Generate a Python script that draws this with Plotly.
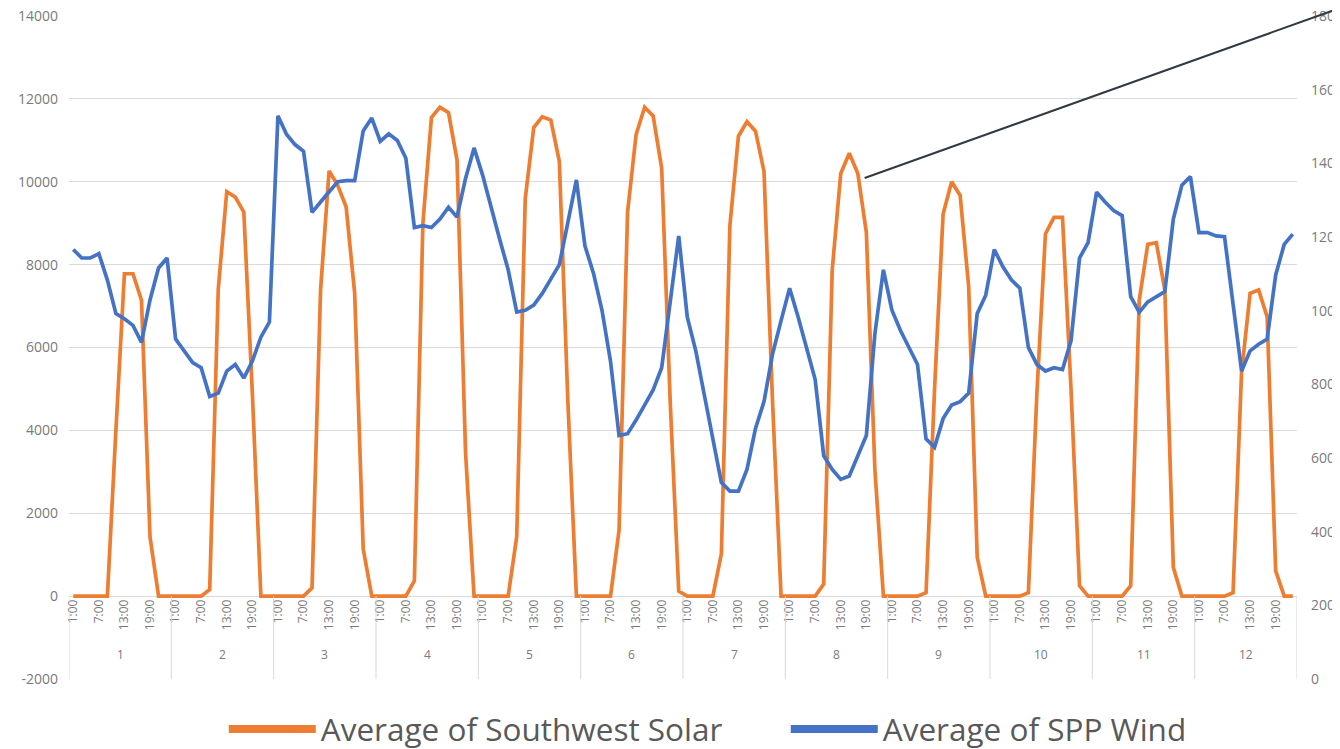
import plotly.graph_objects as go

# ---------------- data ----------------
months = list(range(1, 13))
hours = ["1:00", "3:00", "5:00", "7:00", "9:00", "11:00",
         "13:00", "15:00", "17:00", "19:00", "21:00", "23:00"]
tick_hours = ["1:00", "7:00", "13:00", "19:00"]

solar_by_month = [
    [0, 0, 0, 0, 0, 4000, 7780, 7780, 7140, 1430, 0, 0],
    [0, 0, 0, 0, 160, 7400, 9760, 9630, 9270, 4900, 0, 0],
    [0, 0, 0, 0, 200, 7390, 10260, 9920, 9390, 7310, 1140, 0],
    [0, 0, 0, 0, 370, 9000, 11550, 11800, 11670, 10530, 3470, 0],
    [0, 0, 0, 0, 1430, 9590, 11310, 11570, 11490, 10490, 4690, 0],
    [0, 0, 0, 0, 1590, 9270, 11140, 11800, 11590, 10330, 4690, 120],
    [0, 0, 0, 0, 1020, 8940, 11100, 11450, 11220, 10250, 4690, 0],
    [0, 0, 0, 0, 290, 7880, 10200, 10690, 10200, 8780, 3060, 0],
    [0, 0, 0, 0, 80, 5000, 9220, 10000, 9670, 7470, 940, 0],
    [0, 0, 0, 0, 80, 4900, 8740, 9140, 9140, 5000, 250, 0],
    [0, 0, 0, 0, 250, 7140, 8490, 8530, 7390, 690, 0, 0],
    [0, 0, 0, 0, 80, 5400, 7310, 7390, 6740, 610, 0, 0],
]

wind_by_month = [
    [11660, 11430, 11430, 11550, 10830, 9920, 9780, 9600, 9140, 10290, 11160, 11430],
    [9230, 8910, 8590, 8450, 7670, 7760, 8360, 8540, 8170, 8630, 9280, 9690],
    [15290, 14790, 14510, 14330, 12670, 12950, 13220, 13500, 13530, 13530, 14880, 15230],
    [14600, 14800, 14620, 14140, 12260, 12310, 12260, 12490, 12810, 12540, 13590, 14420],
    [13680, 12770, 11940, 11110, 9960, 10010, 10150, 10470, 10840, 11250, 12400, 13550],
    [11760, 11020, 10010, 8630, 6610, 6660, 7030, 7440, 7850, 8450, 10290, 12030],
    [9830, 8910, 7710, 6520, 5330, 5100, 5100, 5690, 6800, 7530, 8820, 9730],
    [10610, 9830, 9000, 8130, 6060, 5690, 5420, 5510, 6060, 6610, 9370, 11110],
    [10010, 9460, 9000, 8540, 6520, 6290, 7070, 7440, 7530, 7760, 9920, 10420],
    [11660, 11200, 10840, 10610, 9000, 8540, 8360, 8450, 8400, 9180, 11430, 11850],
    [13220, 12950, 12720, 12580, 10380, 9960, 10240, 10380, 10520, 12490, 13410, 13640],
    [12120, 12120, 12030, 12010, 10190, 8360, 8910, 9090, 9230, 10970, 11800, 12080],
]

series_names = ["Average of Southwest Solar", "Average of SPP Wind"]
left_range = [-2000, 14000]
right_range = [0, 18000]
tick_step = 2000
annot_point = (92.8, 10090)  # where the callout line ends (x index, solar units)

# ---------------- build ----------------
n_h = len(hours)
x_idx = list(range(len(months) * n_h))
solar = [v for m in solar_by_month for v in m]
wind = [v for m in wind_by_month for v in m]
tickvals = [i for i in x_idx if hours[i % n_h] in tick_hours]
ticktext = [hours[i % n_h] for i in tickvals]
left_ticks = list(range(left_range[0], left_range[1] + 1, tick_step))
right_ticks = list(range(right_range[0], right_range[1] + 1, tick_step))
eps = 0.5  # tiny range padding so the end ticks are kept

ORANGE = "#ED7D31"
BLUE = "#4472C4"
GRID = "#D9D9D9"
TXT = "#7A7A7A"
FONT = "Open Sans, Liberation Sans, sans-serif"

fig = go.Figure()
fig.add_trace(go.Scatter(x=x_idx, y=solar, mode="lines", name=series_names[0],
                         line=dict(color=ORANGE, width=3.7), yaxis="y",
                         showlegend=False, legendgroup="s"))
fig.add_trace(go.Scatter(x=x_idx, y=wind, mode="lines", name=series_names[1],
                         line=dict(color=BLUE, width=3.7), yaxis="y2",
                         showlegend=False, legendgroup="w"))
# legend entries (thicker key lines, as in the reference)
fig.add_trace(go.Scatter(x=[None], y=[None], mode="lines", name=series_names[0],
                         line=dict(color=ORANGE, width=8), legendgroup="s"))
fig.add_trace(go.Scatter(x=[None], y=[None], mode="lines", name=series_names[1],
                         line=dict(color=BLUE, width=8), legendgroup="w"))

axis_pos = (0 - left_range[0]) / (left_range[1] - left_range[0])

shapes = []
for m in range(len(months) + 1):
    xb = m * n_h - 0.5
    shapes.append(dict(type="line", xref="x", yref="paper", x0=xb, x1=xb,
                       y0=0, y1=axis_pos, line=dict(color=GRID, width=1)))
annotations = []
for m, lab in enumerate(months):
    annotations.append(dict(x=m * n_h + (n_h - 1) / 2, y=0.021, xref="x", yref="paper",
                            text=str(lab), showarrow=False,
                            font=dict(size=12, color=TXT, family=FONT)))
annotations.append(dict(x=annot_point[0], y=annot_point[1], xref="x", yref="y",
                        text="", showarrow=True, arrowhead=0, arrowwidth=2,
                        arrowcolor="#2F3B43", ax=540, ay=-218, axref="pixel", ayref="pixel"))

fig.update_layout(
    template="none",
    width=1332, height=741,
    margin=dict(l=61, r=43, t=8, b=70, autoexpand=False),
    paper_bgcolor="white", plot_bgcolor="white",
    font=dict(family=FONT, color=TXT),
    showlegend=True,
    legend=dict(orientation="h", xref="container", yref="container",
                x=0.162, xanchor="left", y=0.027, yanchor="middle",
                font=dict(size=31.5, color="#595959", family=FONT),
                itemwidth=87, entrywidth=460, entrywidthmode="pixels",
                bgcolor="rgba(0,0,0,0)", borderwidth=0),
    xaxis=dict(range=[-0.5, len(x_idx) - 0.5], tickmode="array",
               tickvals=tickvals, ticktext=ticktext, tickangle=-90,
               tickfont=dict(size=12, color=TXT, family=FONT),
               showgrid=False, zeroline=False, showline=False, ticks="",
               anchor="free", position=axis_pos, automargin=False),
    yaxis=dict(range=[left_range[0], left_range[1] + eps], tickmode="array",
               tickvals=left_ticks, ticktext=[str(v) for v in left_ticks],
               showgrid=True, gridcolor=GRID, gridwidth=1,
               zeroline=False, showline=False, ticks="", automargin=False,
               ticklabeloverflow="allow",
               tickfont=dict(size=14, color=TXT, family=FONT), ticklabelstandoff=10),
    yaxis2=dict(range=[right_range[0], right_range[1] + eps], tickmode="array",
                tickvals=right_ticks, ticktext=[str(v) for v in right_ticks],
                overlaying="y", side="right",
                showgrid=False, zeroline=False, showline=False, ticks="", automargin=False,
                ticklabeloverflow="allow",
                tickfont=dict(size=14, color=TXT, family=FONT), ticklabelstandoff=13),
    shapes=shapes,
    annotations=annotations,
)

fig.write_html("out.html")
